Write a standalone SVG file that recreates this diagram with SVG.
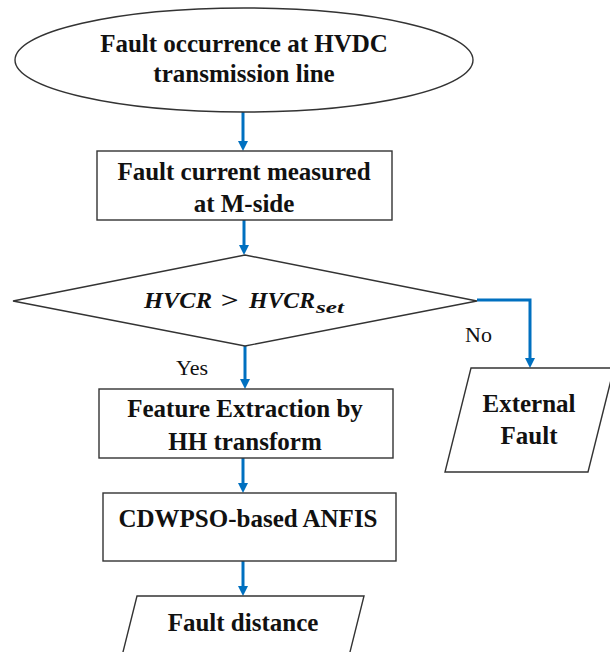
<svg xmlns="http://www.w3.org/2000/svg" width="610" height="652" viewBox="0 0 610 652">
<style>
.shape{fill:#ffffff;stroke:#333333;stroke-width:1.4}
.t{font-family:"Liberation Serif","Times New Roman",serif;font-weight:bold;font-size:25px;fill:#111111;text-anchor:middle}
.lbl{font-family:"Liberation Serif","Times New Roman",serif;font-size:22px;fill:#111111}
.math{font-family:"Liberation Serif","Times New Roman",serif;font-weight:bold;font-style:italic;font-size:23px;fill:#111111}
.conn{fill:none;stroke:#0070C0;stroke-width:3;marker-end:url(#arr)}
</style>
<defs>
<marker id="arr" viewBox="0 0 10 10" refX="4" refY="5" markerWidth="10" markerHeight="10" markerUnits="userSpaceOnUse" orient="auto">
<path d="M0,0 L10,5 L0,10 z" fill="#0070C0"/>
</marker>
</defs>
<rect width="610" height="652" fill="#ffffff"/>
<g id="connectors">
<path class="conn" d="M243,112 V145"/>
<path class="conn" d="M244,220 V249"/>
<path class="conn" d="M245,346 V383"/>
<path class="conn" d="M243,458 V487"/>
<path class="conn" d="M243,561 V590"/>
<path class="conn" d="M477,300 H530 V362"/>
<text class="lbl" x="176" y="375">Yes</text>
<text class="lbl" x="465" y="342">No</text>
</g>
<g id="start">
<ellipse class="shape" cx="244" cy="60" rx="229" ry="52"/>
<text class="t" x="244" y="52">Fault occurrence at HVDC</text>
<text class="t" x="244" y="82">transmission line</text>
</g>
<g id="measure">
<rect class="shape" x="97" y="151" width="295" height="69"/>
<text class="t" x="244" y="180">Fault current measured</text>
<text class="t" x="244" y="212">at M-side</text>
</g>
<g id="decision">
<polygon class="shape" points="13,301 245,255 477,301 245,346"/>
<text class="math" y="308"><tspan x="144" textLength="68" lengthAdjust="spacingAndGlyphs">HVCR</tspan><tspan x="220" textLength="18" lengthAdjust="spacingAndGlyphs">&gt;</tspan><tspan x="249" textLength="66" lengthAdjust="spacingAndGlyphs">HVCR</tspan><tspan x="316" y="313" font-size="16" textLength="28" lengthAdjust="spacingAndGlyphs">set</tspan></text>
</g>
<g id="feature">
<rect class="shape" x="99" y="389" width="294" height="69"/>
<text class="t" x="245" y="417">Feature Extraction by</text>
<text class="t" x="245" y="450">HH transform</text>
</g>
<g id="anfis">
<rect class="shape" x="103" y="493" width="293" height="68"/>
<text class="t" x="248" y="527">CDWPSO-based ANFIS</text>
</g>
<g id="external">
<polygon class="shape" points="471,368 614,368 588,472 445,472"/>
<text class="t" x="529" y="412">External</text>
<text class="t" x="529" y="444">Fault</text>
</g>
<g id="distance">
<polygon class="shape" points="137,596 364,596 348,660 121,660"/>
<text class="t" x="243" y="631">Fault distance</text>
</g>
</svg>
